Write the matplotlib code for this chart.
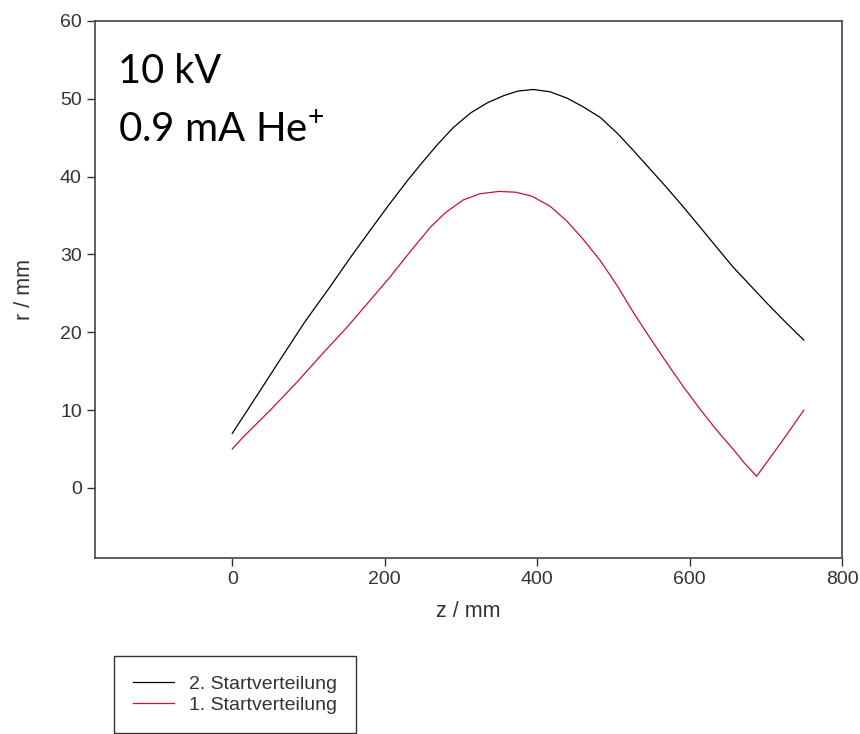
import matplotlib
matplotlib.use('Agg')
import matplotlib.pyplot as plt

# Strahlradius entlang der Achse, zwei Startverteilungen
z_start2 = [0, 30, 63, 95, 128, 155, 181, 205, 230, 250, 270, 290, 313, 335,
            356, 375, 395, 417, 439, 460, 483, 505, 526, 548, 570, 592, 614,
            635, 657, 680, 701, 725, 750]
r_start2 = [7.0, 11.5, 16.5, 21.3, 25.8, 29.6, 33.1, 36.3, 39.5, 41.9, 44.2,
            46.3, 48.2, 49.5, 50.4, 51.0, 51.2, 50.9, 50.1, 49.0, 47.6, 45.6,
            43.4, 41.0, 38.6, 36.1, 33.5, 31.0, 28.4, 26.0, 23.8, 21.4, 19.0]

z_start1 = [0, 14, 50, 85, 118, 151, 180, 207, 233, 260, 280, 303, 325, 350,
            372, 393, 417, 439, 460, 483, 505, 526, 548, 570, 592, 614, 635,
            657, 672, 688, 720, 750]
r_start1 = [5.0, 6.5, 10.0, 13.6, 17.2, 20.7, 24.0, 27.1, 30.3, 33.5, 35.4,
            37.0, 37.8, 38.1, 38.0, 37.5, 36.2, 34.3, 32.0, 29.2, 26.0, 22.6,
            19.3, 16.1, 13.0, 10.1, 7.5, 5.0, 3.2, 1.5, 5.8, 10.0]

x_ticks = [0, 200, 400, 600, 800]
y_ticks = [0, 10, 20, 30, 40, 50, 60]

plt.rcParams['font.family'] = ['Liberation Sans', 'DejaVu Sans']
plt.rcParams['mathtext.fontset'] = 'custom'
plt.rcParams['mathtext.rm'] = 'Lato'

fig = plt.figure(figsize=(8.6, 7.34), dpi=100)
ax = fig.add_axes([0.1105, 0.2398, 0.8685, 0.7316])

l2, = ax.plot(z_start2, r_start2, color='black', lw=0.9,
              label='2. Startverteilung')
l1, = ax.plot(z_start1, r_start1, color='#cc1030', lw=0.9,
              label='1. Startverteilung')

ax.set_xlim(-180, 800)
ax.set_ylim(-9, 60)
ax.set_xticks(x_ticks)
ax.set_yticks(y_ticks)
ax.tick_params(direction='out', length=6, width=1, color='#333333',
               labelcolor='#333333', labelsize=14, top=False, right=False)
for s in ax.spines.values():
    s.set_color('#444444')
    s.set_linewidth(1.2)

ax.set_xlabel('z / mm', fontsize=15.5, color='#333333', labelpad=9)
ax.set_ylabel('r / mm', fontsize=15.5, color='#333333', labelpad=18)

ax.text(118 / 860, 1 - 83 / 734, '10 kV', transform=fig.transFigure,
        family='Lato', fontsize=28.5, va='baseline', ha='left')
ax.text(118 / 860, 1 - 142 / 734, r'0.9 mA He$^{+}$', transform=fig.transFigure,
        family='Lato', fontsize=29, va='baseline', ha='left')

leg = fig.legend(handles=[l2, l1], loc='upper left',
                 bbox_to_anchor=(114 / 860, 1 - 656 / 734),
                 fontsize=14, frameon=True, fancybox=False,
                 edgecolor='black', borderpad=1.0, labelspacing=0.15,
                 handlelength=2.1, handletextpad=0.75, borderaxespad=0)
leg.get_frame().set_linewidth(1.0)
for t in leg.get_texts():
    t.set_color('#333333')

fig.savefig('out.png', dpi=100)
